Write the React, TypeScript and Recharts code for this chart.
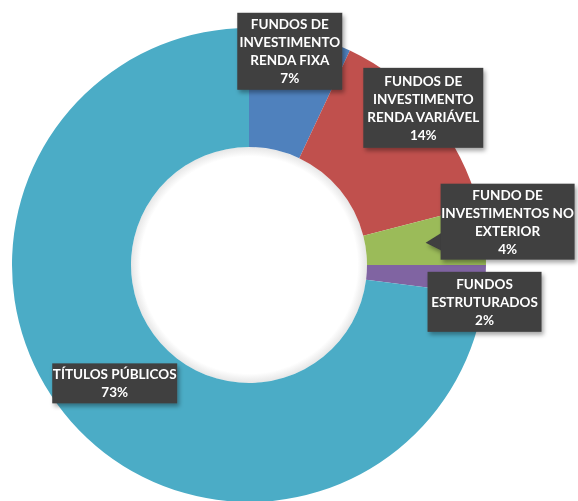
import { PieChart, Pie, Cell } from "recharts";

const categories = [
  "FUNDOS DE\nINVESTIMENTO\nRENDA FIXA",
  "FUNDOS DE\nINVESTIMENTO\nRENDA VARIÁVEL",
  "FUNDO DE\nINVESTIMENTOS NO\nEXTERIOR",
  "FUNDOS\nESTRUTURADOS",
  "TÍTULOS PÚBLICOS",
];
const shares = [7, 14, 4, 2, 73];

const COLORS = ["#4f81bd", "#c0504d", "#9bbb59", "#8064a2", "#4bacc6"];

// label box placement: radius along the slice mid angle, then a shift
const LABEL_LAYOUT = [
  { r: 219, dx: -7, dy: 0, w: 105, h: 77, arrow: false },
  { r: 234, dx: -6, dy: -8, w: 120, h: 80, arrow: false },
  { r: 178, dx: 82, dy: -21, w: 134, h: 76, arrow: true },
  { r: 236, dx: 0, dy: 22, w: 114, h: 60, arrow: false },
  { r: 179, dx: 0, dy: 0, w: 125, h: 40, arrow: false },
];

const data = categories.map((name, i) => ({ name, value: shares[i] }));
const hole = [{ name: "hole", value: 1 }];

const RAD = Math.PI / 180;

const renderLabel = (props: any) => {
  const { cx, cy, midAngle, index, value, name } = props;
  const lay = LABEL_LAYOUT[index];
  const ax = cx + lay.r * Math.cos(-midAngle * RAD);
  const ay = cy + lay.r * Math.sin(-midAngle * RAD);
  const bx = ax + lay.dx;
  const by = ay + lay.dy;
  const lines = [...String(name).split("\n"), `${value}%`];
  const lh = 18;
  const top = by - ((lines.length - 1) * lh) / 2;
  const left = bx - lay.w / 2;
  return (
    <g key={`lbl-${index}`} filter="url(#lblShadow)">
      {lay.arrow && (
        <polygon
          points={`${ax},${ay} ${left + 1},${ay - 10} ${left + 1},${ay + 8}`}
          fill="#3f3f3f"
        />
      )}
      <rect x={left} y={by - lay.h / 2} width={lay.w} height={lay.h} fill="#3f3f3f" />
      {lines.map((t, i) => (
        <text
          key={i}
          x={bx}
          y={top + i * lh}
          textAnchor="middle"
          dominantBaseline="central"
          fill="#ffffff"
          fontFamily="Lato, 'Open Sans', sans-serif"
          fontWeight={700}
          fontSize={13.5}
        >
          {t}
        </text>
      ))}
    </g>
  );
};

const App = () => {
  return (
    <div style={{ position: "fixed", left: 0, top: 0, width: 578, height: 501, background: "#fff" }}>
      <PieChart width={578} height={501} margin={{ top: 0, right: 0, bottom: 0, left: 0 }}>
        <defs>
          <filter id="lblShadow" x="-20%" y="-20%" width="150%" height="150%">
            <feDropShadow dx="2" dy="3" stdDeviation="2" floodColor="#000" floodOpacity="0.35" />
          </filter>
          <radialGradient id="holeGlow" cx="50%" cy="50%" r="50%">
            <stop offset="0.92" stopColor="#ffffff" />
            <stop offset="1" stopColor="#e6e6e6" />
          </radialGradient>
        </defs>
        <Pie
          data={hole}
          dataKey="value"
          cx={249}
          cy={265}
          innerRadius={0}
          outerRadius={118}
          startAngle={90}
          endAngle={-270}
          stroke="none"
          fill="url(#holeGlow)"
          isAnimationActive={false}
        />
        <Pie
          data={data}
          dataKey="value"
          nameKey="name"
          cx={249}
          cy={265}
          innerRadius={118}
          outerRadius={237}
          startAngle={90}
          endAngle={-270}
          stroke="none"
          label={renderLabel}
          labelLine={false}
          isAnimationActive={false}
        >
          {data.map((e, index) => (
            <Cell key={`cell-${e.name}`} fill={COLORS[index % COLORS.length]} stroke="none" />
          ))}
        </Pie>
      </PieChart>
    </div>
  );
};

export default App;
